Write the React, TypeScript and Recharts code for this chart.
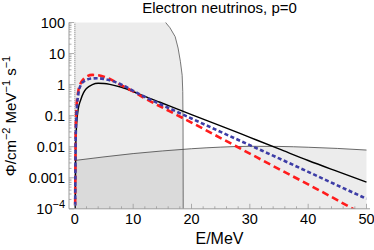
import React from 'react';
import { ComposedChart, Line, Area, XAxis, YAxis, ReferenceLine } from 'recharts';

// ---- data ----
const spectrumE = [0, 0.15, 0.3, 0.6, 1, 1.5, 2, 3, 4, 5, 6, 8, 10, 12, 14.6, 20, 25, 30, 35, 40, 45, 50];
const blackFlux = [1e-6, 0.008, 0.05, 0.17, 0.32, 0.55, 0.75, 1.0, 1.1, 1.08, 1.02, 0.82, 0.6, 0.42, 0.27, 0.108, 0.047, 0.02, 0.0085, 0.0036, 0.0016, 0.00072];
const blueFlux = [1e-6, 0.02, 0.12, 0.5, 0.95, 1.25, 1.42, 1.58, 1.6, 1.52, 1.38, 1.0, 0.63, 0.4, 0.237, 0.081, 0.03, 0.0112, 0.0042, 0.00155, 0.00057, 0.00021];
const redFlux = [1e-6, 0.03, 0.2, 0.62, 1.1, 1.5, 1.8, 2.05, 2.0, 1.8, 1.52, 0.95, 0.6, 0.36, 0.2, 0.06, 0.019, 0.006, 0.0019, 0.00061, 0.00019, 0.000056];

const bandE = [0, 5, 10, 15, 20, 25, 30, 35, 40, 45, 50];
const bandFlux = [0.0036, 0.0047, 0.006, 0.0073, 0.0086, 0.0097, 0.0103, 0.0102, 0.0096, 0.0088, 0.0078];

const regionE = [0, 14.5, 15, 15.6, 16.3, 17.2, 17.7, 18.1, 18.4, 18.5, 18.55, 18.6];
const regionFlux = [1000, 1000, 200, 98, 68, 35, 15, 5.5, 2, 0.6, 0.05, 1e-6];

const xMajorTicks = [0, 10, 20, 30, 40, 50];
const xTickLabels = ['0', '10', '20', '30', '40', '50'];
const xMinorTicks = [2, 4, 6, 8, 12, 14, 16, 18, 22, 24, 26, 28, 32, 34, 36, 38, 42, 44, 46, 48];

const yMajorTicks = [1e-4, 1e-3, 0.01, 0.1, 1, 10, 100];
const yTickLabels = ['10^−4', '0.001', '0.01', '0.1', '1', '10', '100'];
const yMinorMultipliers = [2, 3, 4, 5, 6, 7, 8, 9];

// ---- helpers ----
const rows = (xs: number[], ys: number[]) => xs.map((E, i) => ({ E, v: ys[i] }));
const yMinorTicks = yMajorTicks.slice(0, -1).flatMap((d) => yMinorMultipliers.map((m) => +(d * m).toPrecision(3)));
const allX = [...xMajorTicks, ...xMinorTicks].sort((a, b) => a - b);
const allY = [...yMajorTicks, ...yMinorTicks].sort((a, b) => a - b);

const FONT = "'Liberation Sans', Arial, Helvetica, sans-serif";
const FRAME = '#9a9a9a';
const X_DOMAIN: [number, number] = [-1, 50.6];
const Y_DOMAIN: [number, number] = [1e-4, 100];

const isMajorY = (v: number) => yMajorTicks.some((m) => Math.abs(v / m - 1) < 1e-6);

const XTick = (props: any) => {
  const { x, y, payload, side } = props;
  const v = payload.value;
  const idx = xMajorTicks.indexOf(v);
  const len = idx >= 0 ? 5 : 2.5;
  const dir = side === 'top' ? 1 : -1;
  return (
    <g>
      <line x1={x} x2={x} y1={y} y2={y + dir * len} stroke={FRAME} strokeWidth={0.8} />
      {side !== 'top' && idx >= 0 && (
        <text x={x} y={y + 15.5} textAnchor="middle" fontFamily={FONT} fontSize={14.5} fill="#000">
          {xTickLabels[idx]}
        </text>
      )}
    </g>
  );
};

const YTick = (props: any) => {
  const { x, y, payload, side } = props;
  const v = payload.value;
  const major = isMajorY(v);
  const idx = yMajorTicks.findIndex((m) => Math.abs(v / m - 1) < 1e-6);
  const len = major ? 5 : 2.5;
  const dir = side === 'right' ? -1 : 1;
  let label: React.ReactNode = null;
  if (side !== 'right' && idx >= 0) {
    const t = yTickLabels[idx];
    if (t.includes('^')) {
      const [base, exp] = t.split('^');
      label = (
        <text x={x - 4} y={y + 5} textAnchor="end" fontFamily={FONT} fontSize={14.5} fill="#000">
          <tspan>{base}</tspan>
          <tspan fontSize={11} dy={-6}>{exp}</tspan>
        </text>
      );
    } else {
      label = (
        <text x={x - 4} y={y + 5} textAnchor="end" fontFamily={FONT} fontSize={14.5} fill="#000">
          {t}
        </text>
      );
    }
  }
  return (
    <g>
      <line x1={x} x2={x + dir * len} y1={y} y2={y} stroke={FRAME} strokeWidth={0.8} />
      {label}
    </g>
  );
};

export default function App() {
  return (
    <div style={{ position: 'absolute', left: 0, top: 0, width: 374, height: 250 }}>
      <ComposedChart width={374} height={250} margin={{ top: 22.5, right: 4, bottom: 0, left: 0 }}>
        <XAxis
          xAxisId="b"
          dataKey="E"
          type="number"
          domain={X_DOMAIN}
          allowDataOverflow
          ticks={allX}
          interval={0}
          tickSize={0}
          tickMargin={0}
          tickLine={false}
          height={41.2}
          stroke={FRAME}
          tick={<XTick side="bottom" />}
        />
        <XAxis
          xAxisId="t"
          orientation="top"
          dataKey="E"
          type="number"
          domain={X_DOMAIN}
          allowDataOverflow
          ticks={allX}
          interval={0}
          tickSize={0}
          tickMargin={0}
          tickLine={false}
          height={0}
          stroke={FRAME}
          tick={<XTick side="top" />}
        />
        <YAxis
          yAxisId="l"
          type="number"
          scale="log"
          domain={Y_DOMAIN}
          allowDataOverflow
          ticks={allY}
          interval={0}
          tickSize={0}
          tickMargin={0}
          tickLine={false}
          width={69}
          stroke={FRAME}
          tick={<YTick side="left" />}
        />
        <YAxis
          yAxisId="r"
          orientation="right"
          type="number"
          scale="log"
          domain={Y_DOMAIN}
          allowDataOverflow
          ticks={allY}
          interval={0}
          tickSize={0}
          tickMargin={0}
          tickLine={false}
          width={0}
          stroke={FRAME}
          tick={<YTick side="right" />}
        />
        <Area
          xAxisId="b"
          yAxisId="l"
          data={rows(regionE, regionFlux)}
          dataKey="v"
          type="linear"
          fill="#000"
          fillOpacity={0.075}
          stroke="#555"
          strokeWidth={0.8}
          isAnimationActive={false}
        />
        <Area
          xAxisId="b"
          yAxisId="l"
          data={rows(bandE, bandFlux)}
          dataKey="v"
          type="monotone"
          fill="#000"
          fillOpacity={0.075}
          stroke="#444"
          strokeWidth={0.8}
          isAnimationActive={false}
        />
        <ReferenceLine xAxisId="b" yAxisId="l" x={0} stroke="#8a8a8a" strokeWidth={1.2} strokeDasharray="1 1" />
        <Line
          xAxisId="b"
          yAxisId="l"
          data={rows(spectrumE, blackFlux)}
          dataKey="v"
          type="monotone"
          stroke="#000"
          strokeWidth={1.4}
          dot={false}
          isAnimationActive={false}
        />
        <Line
          xAxisId="b"
          yAxisId="l"
          data={rows(spectrumE, redFlux)}
          dataKey="v"
          type="monotone"
          stroke="#ff1c1c"
          strokeWidth={2.6}
          strokeDasharray="7 4"
          dot={false}
          isAnimationActive={false}
        />
        <Line
          xAxisId="b"
          yAxisId="l"
          data={rows(spectrumE, blueFlux)}
          dataKey="v"
          type="monotone"
          stroke="#3d3da6"
          strokeWidth={2.6}
          strokeDasharray="4 2.5"
          dot={false}
          isAnimationActive={false}
        />
      </ComposedChart>
      <svg width={374} height={250} style={{ position: 'absolute', left: 0, top: 0, pointerEvents: 'none' }}>
        <text x={219.5} y={12.7} textAnchor="middle" fontFamily={FONT} fontSize={15} fill="#000">
          Electron neutrinos, p=0
        </text>
        <text x={219.5} y={244} textAnchor="middle" fontFamily={FONT} fontSize={16} fill="#000">
          E/MeV
        </text>
        <text
          x={0}
          y={0}
          transform="translate(16,116) rotate(-90)"
          textAnchor="middle"
          fontFamily={FONT}
          fontSize={15}
          fill="#000"
        >
          <tspan>Φ/cm</tspan>
          <tspan fontSize={11} dy={-6}>−2</tspan>
          <tspan dy={6}> MeV</tspan>
          <tspan fontSize={11} dy={-6}>−1</tspan>
          <tspan dy={6}> s</tspan>
          <tspan fontSize={11} dy={-6}>−1</tspan>
        </text>
      </svg>
    </div>
  );
}
